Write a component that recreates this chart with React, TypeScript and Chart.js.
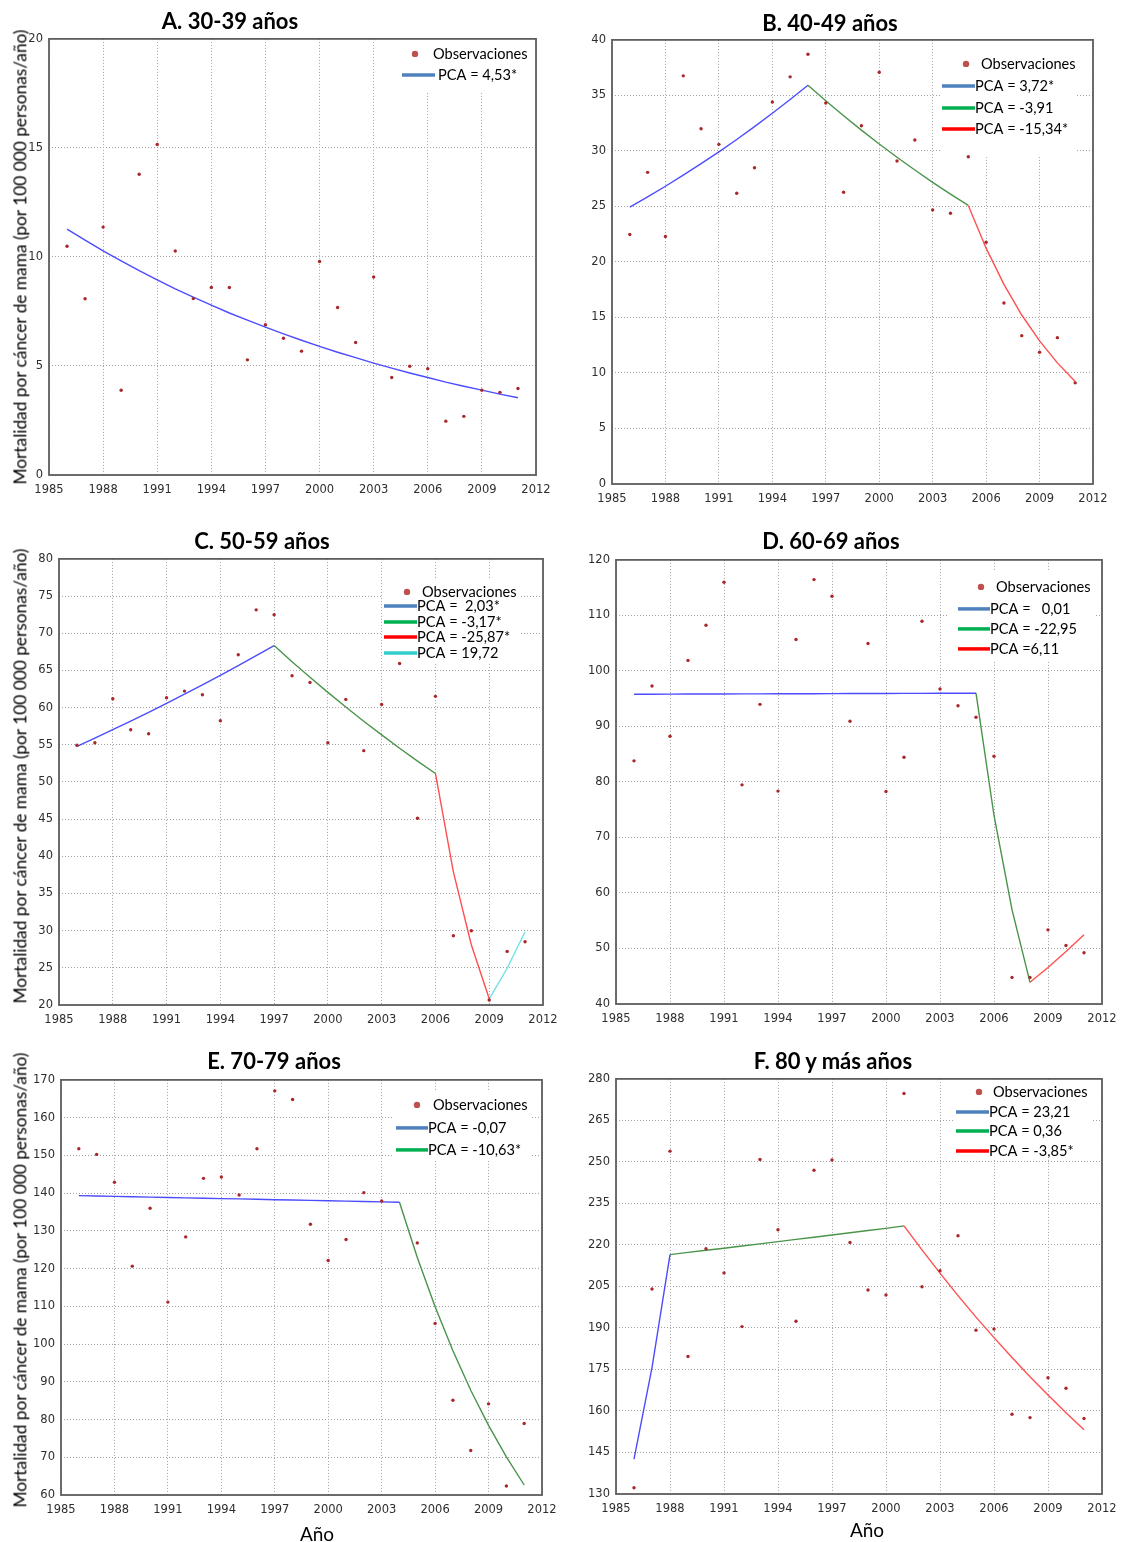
import React, { useEffect, useRef } from "react";
import { Chart, registerables } from "chart.js";

Chart.register(...registerables);

// ---------------- DATA ----------------
const years = [1986, 1987, 1988, 1989, 1990, 1991, 1992, 1993, 1994, 1995, 1996, 1997, 1998, 1999, 2000, 2001, 2002, 2003, 2004, 2005, 2006, 2007, 2008, 2009, 2010, 2011];
const xTickMin = 1985;
const xTickMax = 2012;
const xTickStep = 3;

// Observed mortality (per 100 000 persons/year)
const obsA = [10.49, 8.08, 11.37, 3.89, 13.79, 15.16, 10.27, 8.09, 8.6, 8.6, 5.28, 6.89, 6.27, 5.68, 9.79, 7.68, 6.08, 9.08, 4.47, 4.99, 4.87, 2.47, 2.69, 3.89, 3.79, 3.97];
const obsB = [22.47, 28.07, 22.29, 36.76, 32.0, 30.59, 26.19, 28.49, 34.4, 36.67, 38.71, 34.31, 26.28, 32.27, 37.09, 29.09, 30.98, 24.69, 24.39, 29.48, 21.78, 16.3, 13.36, 11.87, 13.18, 9.11];
const obsC = [54.93, 55.28, 61.19, 57.03, 56.49, 61.33, 62.22, 61.73, 58.24, 67.1, 73.15, 72.48, 64.28, 63.39, 55.28, 61.1, 54.21, 60.43, 65.94, 45.12, 61.51, 29.31, 29.99, 20.67, 27.21, 28.51];
const obsD = [83.8, 97.28, 88.23, 101.9, 108.24, 115.97, 79.48, 93.98, 78.35, 105.67, 116.45, 113.46, 90.93, 104.95, 78.29, 84.46, 108.96, 96.74, 93.74, 91.65, 84.64, 44.79, 44.79, 53.36, 50.55, 49.23];
const obsE = [151.76, 150.26, 142.86, 120.64, 135.98, 111.12, 128.4, 143.91, 144.27, 139.51, 151.76, 167.1, 164.8, 131.75, 122.14, 127.7, 140.12, 137.92, null, 126.81, 105.48, 85.12, 71.81, 84.15, 62.38, 78.95];
const obsF = [132.28, 204.1, 253.9, 179.7, 218.6, 209.9, 190.5, 250.9, 225.5, 192.4, 247.0, 250.7, 220.9, 203.7, 201.9, 274.7, 204.9, 210.7, 223.3, 189.2, 189.6, 158.8, 157.6, 172.0, 168.2, 157.3];

// Joinpoint fitted segments (start year + yearly fitted values)
const fitA1Start = 1986;
const fitA1 = [11.28, 10.77, 10.28, 9.82, 9.37, 8.95, 8.54, 8.16, 7.79, 7.43, 7.1, 6.78, 6.47, 6.18, 5.9, 5.63, 5.38, 5.13, 4.9, 4.68, 4.47, 4.26, 4.07, 3.89, 3.71, 3.54];

const fitB1Start = 1986;
const fitB1 = [24.93, 25.86, 26.82, 27.82, 28.85, 29.92, 31.03, 32.19, 33.39, 34.63, 35.92];
const fitB2Start = 1996;
const fitB2 = [35.92, 34.52, 33.17, 31.87, 30.62, 29.43, 28.28, 27.17, 26.11, 25.09];
const fitB3Start = 2005;
const fitB3 = [25.09, 21.24, 17.98, 15.22, 12.89, 10.91, 9.24];

const fitC1Start = 1986;
const fitC1 = [54.79, 55.9, 57.04, 58.19, 59.37, 60.58, 61.81, 63.06, 64.34, 65.65, 66.98, 68.34];
const fitC2Start = 1997;
const fitC2 = [68.34, 66.17, 64.08, 62.05, 60.08, 58.17, 56.33, 54.54, 52.81, 51.14];
const fitC3Start = 2006;
const fitC3 = [51.14, 37.91, 28.1, 20.83];
const fitC4Start = 2009;
const fitC4 = [20.83, 24.94, 29.86];

const fitD1Start = 1986;
const fitD1 = [95.8, 95.81, 95.82, 95.83, 95.84, 95.85, 95.86, 95.87, 95.88, 95.89, 95.9, 95.91, 95.92, 95.93, 95.94, 95.95, 95.96, 95.97, 95.98, 95.99];
const fitD2Start = 2005;
const fitD2 = [95.99, 73.96, 56.99, 43.91];
const fitD3Start = 2008;
const fitD3 = [43.91, 46.59, 49.44, 52.46];

const fitE1Start = 1986;
const fitE1 = [139.33, 139.23, 139.14, 139.04, 138.94, 138.84, 138.75, 138.65, 138.55, 138.46, 138.36, 138.26, 138.17, 138.07, 137.97, 137.88, 137.78, 137.68, 137.59];
const fitE2Start = 2004;
const fitE2 = [137.59, 122.96, 109.89, 98.21, 87.77, 78.44, 70.1, 62.65];

const fitF1Start = 1986;
const fitF1 = [142.6, 175.7, 216.5];
const fitF2Start = 1988;
const fitF2 = [216.5, 217.3, 218.1, 218.8, 219.6, 220.4, 221.2, 222.0, 222.8, 223.6, 224.4, 225.2, 226.0, 226.9];
const fitF3Start = 2001;
const fitF3 = [226.9, 218.2, 209.8, 201.7, 193.9, 186.5, 179.3, 172.4, 165.8, 159.4, 153.2];

const labelsA = ["PCA = 4,53*"];
const labelsB = ["PCA = 3,72*", "PCA = -3,91", "PCA = -15,34*"];
const labelsC = ["PCA =  2,03*", "PCA = -3,17*", "PCA = -25,87*", "PCA = 19,72"];
const labelsD = ["PCA =   0,01", "PCA = -22,95", "PCA =6,11"];
const labelsE = ["PCA = -0,07", "PCA = -10,63*"];
const labelsF = ["PCA = 23,21", "PCA = 0,36", "PCA = -3,85*"];

const titles = ["A. 30-39 años", "B. 40-49 años", "C. 50-59 años", "D. 60-69 años", "E. 70-79 años", "F. 80 y más años"];
const obsLabel = "Observaciones";
const yAxisTitle = "Mortalidad por cáncer de mama (por 100 000 personas/año)";
const xAxisTitle = "Año";

// ---------------- STYLES ----------------
const PLOT_COLORS = ["rgba(45,45,255,0.85)", "#4a944a", "rgba(255,60,60,0.9)", "#70e2e2"];
const LEGEND_COLORS = ["#4f81bd", "#00b050", "#ff0000", "#33cccc"];
const TEXT_FONT = "Lato, 'Open Sans', sans-serif";
const TICK_FONT = "'DejaVu Sans', Verdana, sans-serif";

type Seg = { start: number; values: number[] };
type LegendLayout = { box: number[]; dot: number[]; obsX: number; lineX: number[]; textX: number; rows: number[] };
type Panel = {
  title: string;
  obs: (number | null)[];
  segs: Seg[];
  labels: string[];
  yMin: number; yMax: number; yStep: number;
  plot: number[]; // L, T, R, B page coords of plot area
  titlePos: number[];
  yTitle?: number[];
  xTitle?: number[];
  legend: LegendLayout;
};

const panels: Panel[] = [
  {
    title: titles[0], obs: obsA, labels: labelsA,
    segs: [{ start: fitA1Start, values: fitA1 }],
    yMin: 0, yMax: 20, yStep: 5,
    plot: [49, 38, 536, 475], titlePos: [230, 21], yTitle: [19.5, 257],
    legend: { box: [395, 38, 536, 91], dot: [415, 53], obsX: 433, lineX: [402, 435], textX: 438, rows: [74] },
  },
  {
    title: titles[1], obs: obsB, labels: labelsB,
    segs: [{ start: fitB1Start, values: fitB1 }, { start: fitB2Start, values: fitB2 }, { start: fitB3Start, values: fitB3 }],
    yMin: 0, yMax: 40, yStep: 5,
    plot: [612, 39, 1093, 484], titlePos: [830, 23],
    legend: { box: [940, 39, 1075, 156], dot: [966, 63], obsX: 981, lineX: [942, 975], textX: 975, rows: [85, 107, 128] },
  },
  {
    title: titles[2], obs: obsC, labels: labelsC,
    segs: [{ start: fitC1Start, values: fitC1 }, { start: fitC2Start, values: fitC2 }, { start: fitC3Start, values: fitC3 }, { start: fitC4Start, values: fitC4 }],
    yMin: 20, yMax: 80, yStep: 5,
    plot: [59, 558, 543, 1005], titlePos: [262, 541], yTitle: [19.5, 776],
    legend: { box: [382, 579, 520, 662], dot: [407, 591], obsX: 422, lineX: [384, 417], textX: 417, rows: [605, 621, 636, 652] },
  },
  {
    title: titles[3], obs: obsD, labels: labelsD,
    segs: [{ start: fitD1Start, values: fitD1 }, { start: fitD2Start, values: fitD2 }, { start: fitD3Start, values: fitD3 }],
    yMin: 40, yMax: 120, yStep: 10,
    plot: [616, 559, 1102, 1004], titlePos: [831, 541],
    legend: { box: [949, 570, 1094, 660], dot: [981, 586], obsX: 996, lineX: [958, 990], textX: 990, rows: [608, 628, 648] },
  },
  {
    title: titles[4], obs: obsE, labels: labelsE,
    segs: [{ start: fitE1Start, values: fitE1 }, { start: fitE2Start, values: fitE2 }],
    yMin: 60, yMax: 170, yStep: 10,
    plot: [61, 1079, 542, 1495], titlePos: [274, 1061], yTitle: [19.5, 1280], xTitle: [317, 1533],
    legend: { box: [393, 1090, 532, 1160], dot: [417, 1104], obsX: 433, lineX: [396, 428], textX: 428, rows: [1127, 1149] },
  },
  {
    title: titles[5], obs: obsF, labels: labelsF,
    segs: [{ start: fitF1Start, values: fitF1 }, { start: fitF2Start, values: fitF2 }, { start: fitF3Start, values: fitF3 }],
    yMin: 130, yMax: 280, yStep: 15,
    plot: [616, 1078, 1102, 1494], titlePos: [833, 1061], xTitle: [867, 1529],
    legend: { box: [955, 1080, 1091, 1157], dot: [979, 1091], obsX: 993, lineX: [956, 989], textX: 989, rows: [1111, 1130, 1150] },
  },
];

// canvas margins around plot area
const M_LEFT = 45;
const M_TOP = 12;
const M_RIGHT = 25;
const M_BOTTOM = 28;

const panelPlugin = {
  id: "panelDecor",
  beforeDatasetsDraw(chart: any, _args: any, opts: any) {
    const lg: LegendLayout = opts.legend;
    if (!lg) return;
    const { ctx, chartArea } = chart;
    const ox = chartArea.left - opts.L;
    const oy = chartArea.top - opts.T;
    ctx.save();
    ctx.fillStyle = "#ffffff";
    ctx.fillRect(lg.box[0] + ox, lg.box[1] + oy, lg.box[2] - lg.box[0], lg.box[3] - lg.box[1]);
    ctx.fillStyle = "#c0504d";
    ctx.beginPath();
    ctx.arc(lg.dot[0] + ox, lg.dot[1] + oy, 3.2, 0, Math.PI * 2);
    ctx.fill();
    ctx.font = `14.6px ${TEXT_FONT}`;
    ctx.textBaseline = "middle";
    ctx.textAlign = "left";
    ctx.fillStyle = "#000";
    ctx.fillText(chart.data.datasets[0].label, lg.obsX + ox, lg.dot[1] + oy);
    const lineSets = chart.data.datasets.filter((d: any) => d.legendColor);
    lineSets.forEach((d: any, i: number) => {
      const y = lg.rows[i] + oy;
      ctx.strokeStyle = d.legendColor;
      ctx.lineWidth = 3.5;
      ctx.beginPath();
      ctx.moveTo(lg.lineX[0] + ox, y);
      ctx.lineTo(lg.lineX[1] + ox, y);
      ctx.stroke();
      ctx.fillStyle = "#000";
      ctx.fillText(d.label, lg.textX + ox, y);
    });
    ctx.restore();
  },
  afterDatasetsDraw(chart: any) {
    const { ctx, chartArea } = chart;
    ctx.save();
    ctx.strokeStyle = "#5e5e5e";
    ctx.lineWidth = 1.8;
    ctx.strokeRect(chartArea.left, chartArea.top, chartArea.right - chartArea.left, chartArea.bottom - chartArea.top);
    ctx.restore();
  },
};

function PanelChart({ p }: { p: Panel }) {
  const ref = useRef<HTMLCanvasElement | null>(null);
  const [L, T, R, B] = p.plot;
  const w = R - L + M_LEFT + M_RIGHT;
  const h = B - T + M_TOP + M_BOTTOM;

  useEffect(() => {
    if (!ref.current) return;
    const obsPoints = years
      .map((yr, i) => ({ x: yr, y: p.obs[i] }))
      .filter((pt) => pt.y !== null && pt.y !== undefined);
    const datasets: any[] = [
      {
        label: obsLabel,
        data: obsPoints,
        showLine: false,
        pointRadius: 1.7,
        pointBorderWidth: 0,
        pointBackgroundColor: "#a8282a",
        pointBorderColor: "#a8282a",
      },
    ];
    p.segs.forEach((s, k) => {
      datasets.push({
        label: p.labels[k],
        legendColor: LEGEND_COLORS[k],
        data: s.values.map((v, i) => ({ x: s.start + i, y: v })),
        showLine: true,
        pointRadius: 0,
        borderColor: PLOT_COLORS[k],
        borderWidth: 1.4,
        tension: 0,
      });
    });
    const gridCommon = { color: "#a3a3a3", lineWidth: 1, drawTicks: false };
    const chart = new Chart(ref.current, {
      type: "scatter",
      data: { datasets },
      plugins: [panelPlugin],
      options: {
        animation: false,
        responsive: false,
        maintainAspectRatio: false,
        events: [],
        layout: { padding: { top: M_TOP, right: M_RIGHT, left: 0, bottom: 0 } },
        plugins: {
          legend: { display: false },
          tooltip: { enabled: false },
          title: { display: false },
          panelDecor: { legend: p.legend, L, T },
        } as any,
        scales: {
          x: {
            type: "linear",
            min: xTickMin,
            max: xTickMax,
            afterFit: (sc: any) => { sc.height = M_BOTTOM; },
            ticks: {
              stepSize: xTickStep,
              autoSkip: false,
              maxRotation: 0,
              padding: 8,
              color: "#2e2e2e",
              font: { family: TICK_FONT, size: 11.5 },
              callback: (v: any) => String(v),
            },
            grid: gridCommon,
            border: { display: false, dash: [1, 2] },
          },
          y: {
            type: "linear",
            min: p.yMin,
            max: p.yMax,
            afterFit: (sc: any) => { sc.width = M_LEFT; },
            ticks: {
              stepSize: p.yStep,
              autoSkip: false,
              padding: 6,
              color: "#2e2e2e",
              font: { family: TICK_FONT, size: 11.5 },
              callback: (v: any) => String(v),
            },
            grid: gridCommon,
            border: { display: false, dash: [1, 2] },
          },
        },
      } as any,
    });
    return () => chart.destroy();
  }, [p]);

  return (
    <canvas
      ref={ref}
      width={w}
      height={h}
      style={{ position: "absolute", left: L - M_LEFT, top: T - M_TOP, width: w, height: h }}
    />
  );
}

const centered = (x: number, y: number): React.CSSProperties => ({
  position: "absolute",
  left: x,
  top: y,
  transform: "translate(-50%, -50%)",
  whiteSpace: "nowrap",
  lineHeight: 1,
  color: "#000",
  fontFamily: TEXT_FONT,
});

export default function App() {
  return (
    <div style={{ position: "absolute", left: 0, top: 0, width: 1123, height: 1542, background: "#fff", overflow: "hidden" }}>
      {panels.map((p, i) => (
        <React.Fragment key={i}>
          <PanelChart p={p} />
          <div style={{ ...centered(p.titlePos[0], p.titlePos[1]), fontWeight: 700, fontSize: 22 }}>{p.title}</div>
          {p.yTitle && (
            <div style={{ ...centered(p.yTitle[0], p.yTitle[1]), fontSize: 17.3, transform: "translate(-50%, -50%) rotate(-90deg)" }}>
              {yAxisTitle}
            </div>
          )}
          {p.xTitle && <div style={{ ...centered(p.xTitle[0], p.xTitle[1]), fontSize: 19 }}>{xAxisTitle}</div>}
        </React.Fragment>
      ))}
    </div>
  );
}
